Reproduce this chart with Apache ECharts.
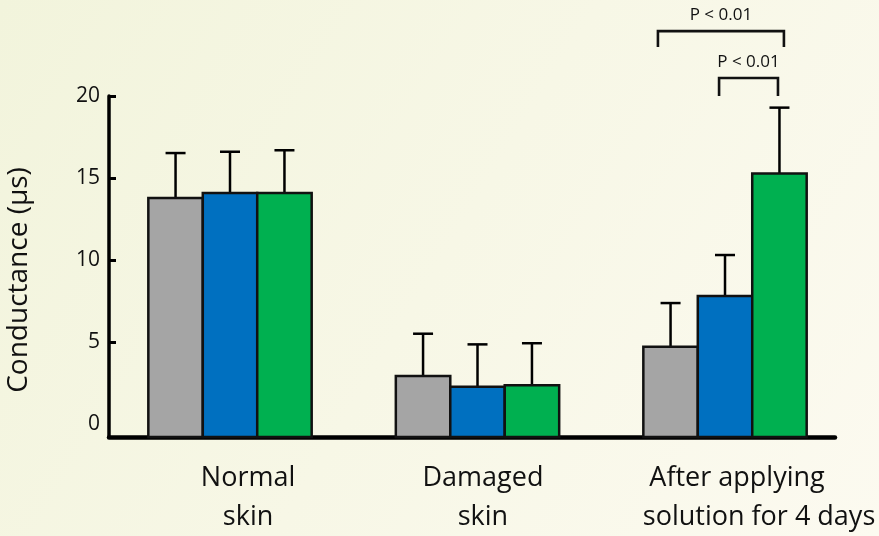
<!DOCTYPE html>
<html>
<head>
<meta charset="utf-8">
<script src="https://cdn.jsdelivr.net/npm/echarts@6/dist/echarts.min.js"></script>
<style>
html,body{margin:0;padding:0;}
#chart{width:879px;height:536px;}
</style>
</head>
<body>
<div id="chart"></div>
<script>
// ---- data ----
const categories = ['Normal\nskin', 'Damaged\nskin', 'After applying\nsolution for 4 days'];
const seriesNames = ['Group A', 'Group B', 'Group C'];
const meanA = [13.78, 2.92, 4.71];
const meanB = [14.08, 2.27, 7.80];
const meanC = [14.08, 2.35, 15.28];
const errTopA = [16.52, 5.50, 7.37];
const errTopB = [16.60, 4.85, 10.30];
const errTopC = [16.69, 4.92, 19.29];
const yTickValues = [5, 10, 15, 20];
const yLabelValues = [0, 5, 10, 15, 20];
// brackets: [x start, x end, y top, y leg end, label]
const bracketStart = [1.729, 1.976];
const bracketEnd = [2.238, 2.214];
const bracketTop = [23.96, 21.10];
const bracketLeg = [22.99, 20.00];
const bracketLabels = ['P < 0.01', 'P < 0.01'];

// ---- layout ----
const XMIN = -0.4889, XMAX = 2.4444;
const YMIN = -0.8, YMAX = 20;
const BAR_W = 0.22;
const labelPos = [0.073, 1.022, 2.093];
const colors = ['#a5a5a5', '#0070c0', '#00b050'];
const FONT = 'Open Sans';

const chart = echarts.init(document.getElementById('chart'));

function barRender(params, api) {
  const c = api.value(0), v = api.value(1), e = api.value(2);
  const off = (params.seriesIndex - 1) * BAR_W;
  const cx = c + off;
  const p0 = api.coord([cx - BAR_W / 2, v]);
  const p1 = api.coord([cx + BAR_W / 2, YMIN]);
  const pc = api.coord([cx, v]);
  const pe = api.coord([cx, e]);
  const capHalf = 10;
  return {
    type: 'group',
    children: [
      { type: 'line', shape: { x1: pc[0], y1: pc[1], x2: pe[0], y2: pe[1] },
        style: { stroke: '#000', lineWidth: 2.5 } },
      { type: 'line', shape: { x1: pe[0] - capHalf, y1: pe[1], x2: pe[0] + capHalf, y2: pe[1] },
        style: { stroke: '#000', lineWidth: 2.5 } },
      { type: 'rect', shape: { x: p0[0], y: p0[1], width: p1[0] - p0[0], height: p1[1] - p0[1] },
        style: { fill: colors[params.seriesIndex], stroke: '#111', lineWidth: 2.5 } }
    ]
  };
}

function bracketRender(params, api) {
  const a = api.coord([api.value(0), api.value(2)]);
  const b = api.coord([api.value(1), api.value(2)]);
  const la = api.coord([api.value(0), api.value(3)]);
  const lb = api.coord([api.value(1), api.value(3)]);
  return {
    type: 'group',
    children: [
      { type: 'polyline', shape: { points: [[la[0], la[1]], [a[0], a[1]], [b[0], b[1]], [lb[0], lb[1]]] },
        style: { stroke: '#111', lineWidth: 2.6, fill: null } },
      { type: 'text', x: (a[0] + b[0]) / 2, y: a[1] - 16,
        style: { text: bracketLabels[params.dataIndex], fontFamily: FONT, fontSize: 17, fill: '#111',
                 align: 'center', verticalAlign: 'middle' } }
    ]
  };
}

const means = [meanA, meanB, meanC];
const errs = [errTopA, errTopB, errTopC];
const series = seriesNames.map((n, i) => ({
  name: n,
  type: 'custom',
  renderItem: barRender,
  clip: false,
  data: categories.map((c, j) => [j, means[i][j], errs[i][j]])
}));
series.push({
  type: 'custom',
  renderItem: bracketRender,
  clip: false,
  data: bracketStart.map((s, k) => [s, bracketEnd[k], bracketTop[k], bracketLeg[k]])
});

const option = {
  backgroundColor: {
    type: 'linear', x: 0, y: 0, x2: 1, y2: 1,
    colorStops: [{ offset: 0, color: '#f2f4dc' }, { offset: 1, color: '#fcfaf0' }]
  },
  animation: false,
  grid: { left: 109, right: 44, top: 96, bottom: 99 },
  xAxis: {
    type: 'value', min: XMIN, max: XMAX,
    splitLine: { show: false },
    axisTick: { show: false },
    axisLine: { onZero: false, lineStyle: { color: '#000', width: 4.5 } },
    axisLabel: {
      customValues: labelPos,
      margin: 22,
      formatter: function (v) {
        const i = Math.round(v);
        const parts = categories[i].split('\n');
        if (i === 2) return '{a|' + parts[0] + '}\n{b|' + parts[1] + '}';
        return '{c|' + parts[0] + '}\n{c|' + parts[1] + '}';
      },
      rich: {
        a: { fontFamily: FONT, fontSize: 27, lineHeight: 39, color: '#111', padding: [0, 22, 0, 0] },
        b: { fontFamily: FONT, fontSize: 27, lineHeight: 39, color: '#111', padding: [0, 0, 0, 22] },
        c: { fontFamily: FONT, fontSize: 27, lineHeight: 39, color: '#111' }
      }
    }
  },
  yAxis: {
    type: 'value', min: YMIN, max: YMAX,
    splitLine: { show: false },
    axisLine: { show: true, onZero: false, lineStyle: { color: '#000', width: 3.5 } },
    axisTick: { show: true, inside: true, length: 7, customValues: yTickValues,
                lineStyle: { color: '#000', width: 3 } },
    axisLabel: { customValues: yLabelValues, fontFamily: FONT, fontSize: 21, color: '#111', margin: 9 }
  },
  graphic: [{
    type: 'text', x: 19, y: 280, rotation: Math.PI / 2,
    style: { text: 'Conductance (µs)', fontFamily: FONT, fontSize: 28, fill: '#111',
             align: 'center', verticalAlign: 'middle' }
  }],
  series: series
};
chart.setOption(option);
</script>
</body>
</html>
